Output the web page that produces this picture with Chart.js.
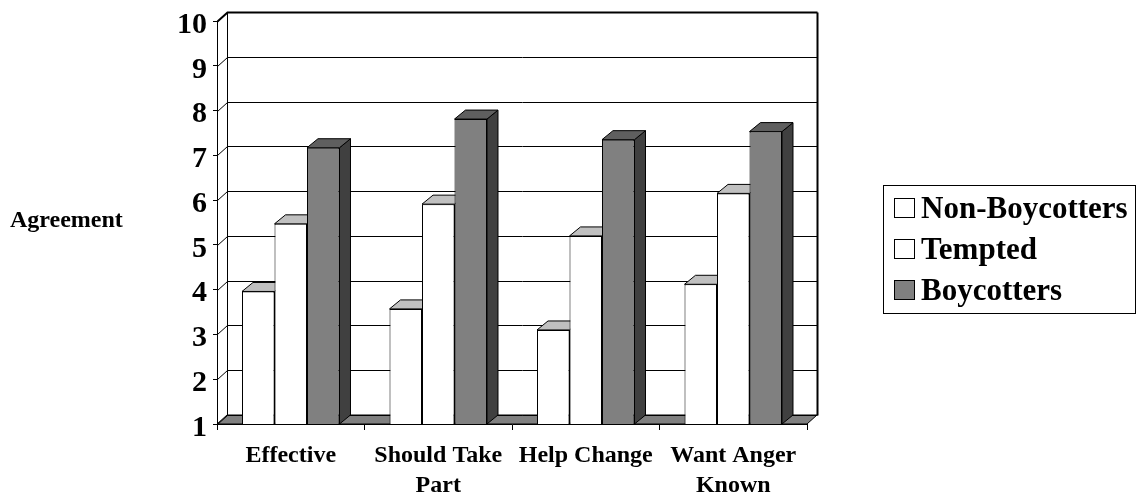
<!DOCTYPE html>
<html>
<head>
<meta charset="utf-8">
<script src="https://cdn.jsdelivr.net/npm/chart.js@4.4.0/dist/chart.umd.min.js"></script>
<style>
  html, body { margin: 0; padding: 0; background: #ffffff; }
  canvas { display: block; }
</style>
</head>
<body>
<canvas id="chart" width="1137" height="502"></canvas>
<script>
// ---- data ----
const categories = [['Effective'], ['Should Take', 'Part'], ['Help Change'], ['Want Anger', 'Known']];
const seriesNames = ['Non-Boycotters', 'Tempted', 'Boycotters'];
const nonBoycotters = [3.96, 3.57, 3.10, 4.12];
const tempted = [5.47, 5.91, 5.20, 6.15];
const boycotters = [7.17, 7.81, 7.35, 7.53];
const yMin = 1;
const yMax = 10;
const yTitle = 'Agreement';

// ---- styling ----
const FONT = "'Liberation Serif', 'Times New Roman', serif";
const faceColors = [
  { front: '#ffffff', top: '#c0c0c0', side: '#808080' },
  { front: '#ffffff', top: '#c0c0c0', side: '#808080' },
  { front: '#808080', top: '#5f5f5f', side: '#404040' }
];
const WALL_DX = 10, WALL_DY = 9;   // depth of the walls / floor
const BAR_DX = 11, BAR_DY = 9;     // depth of each column

function poly(ctx, pts, fill, stroke, lw) {
  ctx.beginPath();
  ctx.moveTo(pts[0][0], pts[0][1]);
  for (let i = 1; i < pts.length; i++) ctx.lineTo(pts[i][0], pts[i][1]);
  ctx.closePath();
  if (fill) { ctx.fillStyle = fill; ctx.fill(); }
  if (stroke) { ctx.lineWidth = lw || 1; ctx.strokeStyle = stroke; ctx.stroke(); }
}

// Walls, floor and the top/side faces of the columns, drawn behind the front faces
const depthPlugin = {
  id: 'depth',
  beforeDatasetsDraw(chart) {
    const { ctx, chartArea: ca } = chart;
    const y = chart.scales.y;
    const L = ca.left, R = ca.right, B = ca.bottom, T = ca.top;
    const basePx = y.getPixelForValue(yMin);
    ctx.save();

    // floor
    poly(ctx, [[L, B], [R, B], [R + WALL_DX, B - WALL_DY], [L + WALL_DX, B - WALL_DY]], '#808080', '#000', 1);

    // gridlines on side wall and back wall
    ctx.strokeStyle = '#000';
    y.ticks.forEach(t => {
      const yf = Math.round(y.getPixelForValue(t.value)) + 0.5;
      const yb = yf - WALL_DY;
      ctx.lineWidth = t.value === yMax ? 2 : 1;
      ctx.beginPath();
      ctx.moveTo(L + 0.5, yf);
      ctx.lineTo(L + WALL_DX + 0.5, yb);
      ctx.lineTo(R + WALL_DX + 0.5, yb);
      ctx.stroke();
    });

    // wall edges
    const topB = Math.round(T) + 0.5 - WALL_DY;
    const botB = Math.round(B) + 0.5 - WALL_DY;
    ctx.lineWidth = 1;
    ctx.beginPath();
    ctx.moveTo(L + WALL_DX + 0.5, topB);
    ctx.lineTo(L + WALL_DX + 0.5, botB);
    ctx.stroke();
    ctx.lineWidth = 2;
    ctx.beginPath();
    ctx.moveTo(R + WALL_DX + 0.5, topB);
    ctx.lineTo(R + WALL_DX + 0.5, botB);
    ctx.stroke();

    // column tops and sides
    chart.data.datasets.forEach((ds, di) => {
      const meta = chart.getDatasetMeta(di);
      const fc = faceColors[di];
      meta.data.forEach(el => {
        const l = el.x - el.width / 2, r = el.x + el.width / 2;
        const top = el.y, base = basePx;
        poly(ctx, [[r, top], [r + BAR_DX, top - BAR_DY], [r + BAR_DX, base - BAR_DY], [r, base]], fc.side, '#000', 1);
        poly(ctx, [[l, top], [r, top], [r + BAR_DX, top - BAR_DY], [l + BAR_DX, top - BAR_DY]], fc.top, '#000', 1);
      });
    });
    ctx.restore();
  },
  afterDraw(chart) {
    const ctx = chart.ctx;
    ctx.save();
    // vertical axis title
    ctx.fillStyle = '#000';
    ctx.font = 'bold 24px ' + FONT;
    ctx.textAlign = 'left';
    ctx.textBaseline = 'alphabetic';
    ctx.fillText(yTitle, 10, 227);

    // legend
    const bx = 883.5, by = 185.5, bw = 252, bh = 128;
    ctx.lineWidth = 1;
    ctx.strokeStyle = '#000';
    ctx.fillStyle = '#fff';
    ctx.fillRect(bx, by, bw, bh);
    ctx.strokeRect(bx, by, bw, bh);
    const rows = [208, 249, 290];
    ctx.font = 'bold 31px ' + FONT;
    ctx.textBaseline = 'middle';
    chart.data.datasets.forEach((ds, i) => {
      const cy = rows[i];
      ctx.fillStyle = ds.backgroundColor;
      ctx.fillRect(894.5, cy - 9.5, 20, 19);
      ctx.strokeRect(894.5, cy - 9.5, 20, 19);
      ctx.fillStyle = '#000';
      ctx.fillText(ds.label, 921, cy + 2);
    });
    ctx.restore();
  }
};

const seriesValues = [nonBoycotters, tempted, boycotters];

new Chart(document.getElementById('chart'), {
  type: 'bar',
  data: {
    labels: categories,
    datasets: seriesNames.map((name, i) => ({
      label: name,
      data: seriesValues[i],
      backgroundColor: faceColors[i].front,
      borderColor: '#000',
      borderWidth: 1,
      borderSkipped: false,
      barPercentage: 1.0,
      categoryPercentage: 0.661
    }))
  },
  options: {
    responsive: false,
    animation: false,
    devicePixelRatio: 1,
    layout: { padding: { left: 0, right: 330, top: 17, bottom: 0 } },
    plugins: {
      legend: { display: false },
      tooltip: { enabled: false }
    },
    scales: {
      x: {
        grid: { display: true, drawOnChartArea: false, drawTicks: true, tickLength: 6, color: '#000', lineWidth: 1, offset: true },
        border: { display: true, color: '#000', width: 1 },
        ticks: {
          color: '#000',
          font: { family: FONT, size: 24, weight: 'bold', lineHeight: 1.25 },
          padding: 11,
          maxRotation: 0,
          minRotation: 0,
          autoSkip: false
        },
        afterFit(scale) { scale.height = 78; }
      },
      y: {
        min: yMin,
        max: yMax,
        grid: { display: true, drawOnChartArea: false, drawTicks: true, tickLength: 4, color: '#000', lineWidth: 1 },
        border: { display: true, color: '#000', width: 1 },
        ticks: {
          stepSize: 1,
          color: '#000',
          font: { family: FONT, size: 30, weight: 'bold', lineHeight: 1.0 },
          padding: 6,
          labelOffset: 4
        },
        afterFit(scale) { scale.width = 217; }
      }
    }
  },
  plugins: [depthPlugin]
});
</script>
</body>
</html>
